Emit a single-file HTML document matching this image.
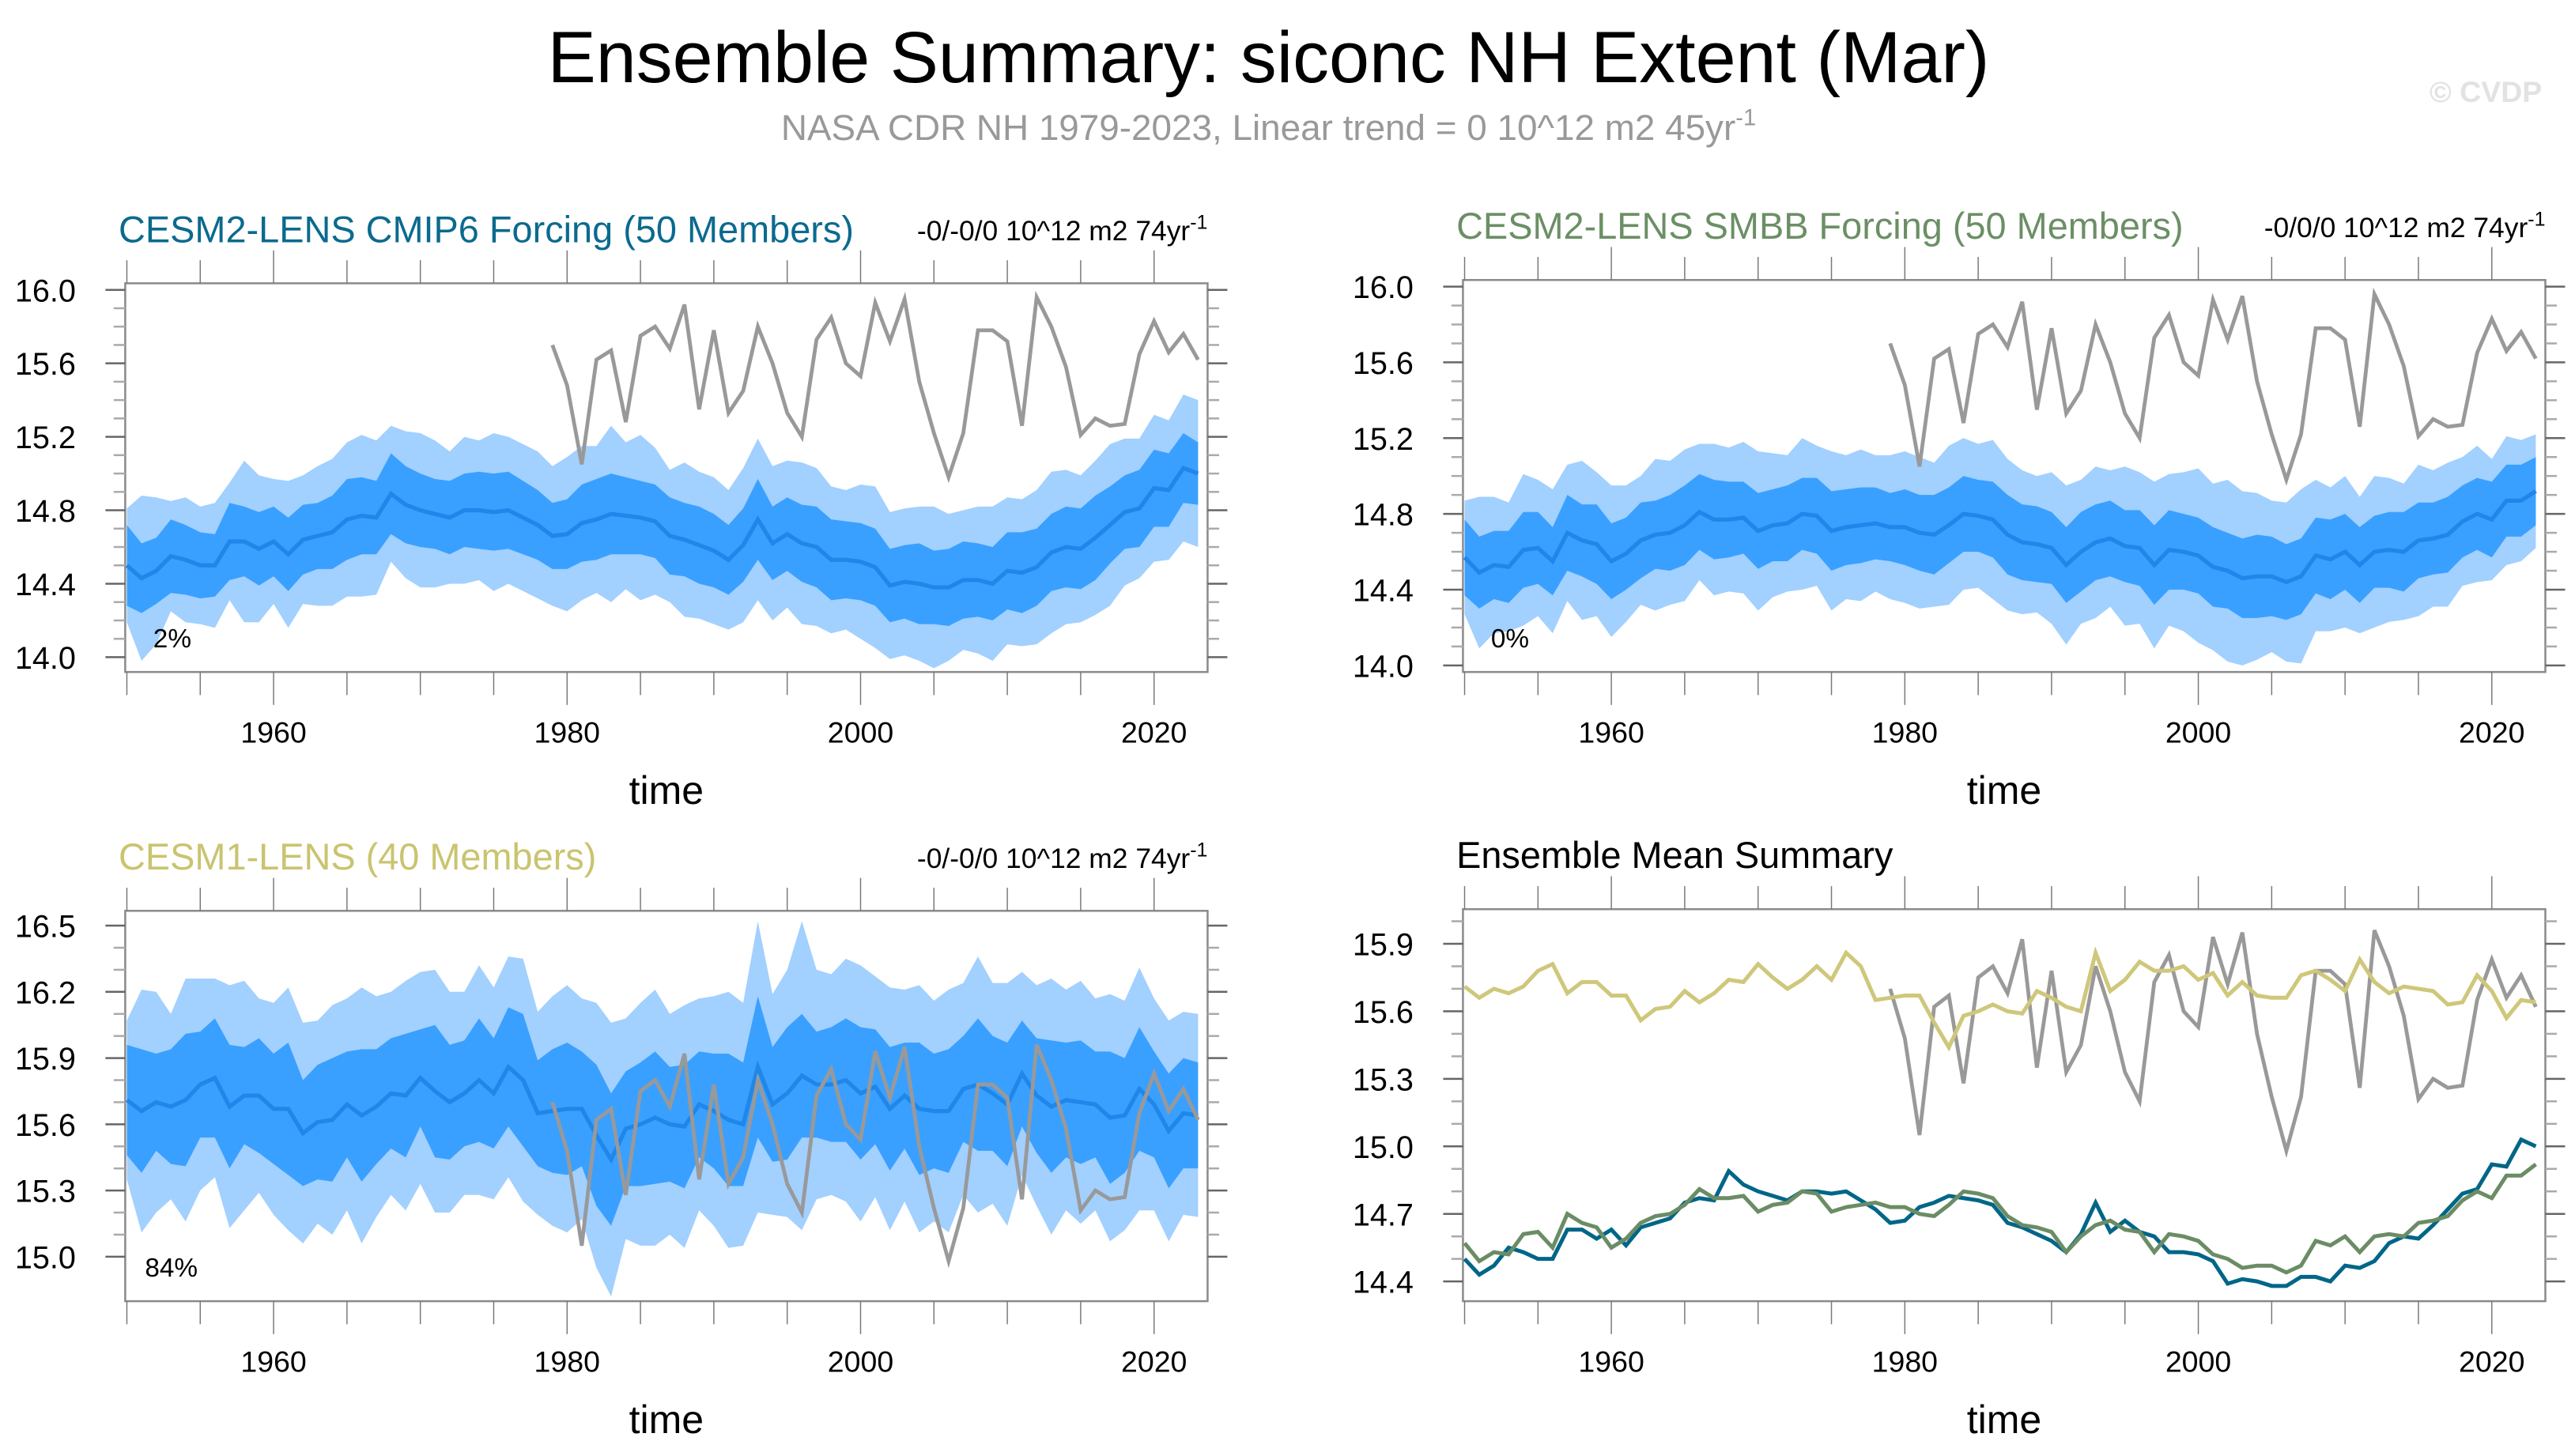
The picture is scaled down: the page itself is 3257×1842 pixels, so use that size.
<!DOCTYPE html>
<html><head><meta charset="utf-8"><style>
html,body{margin:0;padding:0;background:#fff;}
svg{display:block;font-family:"Liberation Sans",sans-serif;}
</style></head><body>
<svg id="chart" width="3257" height="1842" viewBox="0 0 1563 884" preserveAspectRatio="none" xmlns="http://www.w3.org/2000/svg">
<text x="770" y="50" font-size="44" text-anchor="middle" fill="#000">Ensemble Summary: siconc NH Extent (Mar)</text>
<text x="770" y="85" font-size="22" text-anchor="middle" fill="#999">NASA CDR NH 1979-2023, Linear trend = 0 10^12 m2 45yr<tspan dy="-9" font-size="14">-1</tspan></text>
<text x="1543" y="62" font-size="18" font-weight="bold" text-anchor="end" fill="#e2e2e2">© CVDP</text>
</svg>
<script>
const years = Array.from({length:74},(_,i)=>1950+i);
const obsYears = Array.from({length:45},(_,i)=>1979+i);
const obsValues = [15.70,15.48,15.05,15.62,15.67,15.28,15.75,15.80,15.68,15.92,15.35,15.78,15.33,15.45,15.80,15.60,15.33,15.20,15.73,15.85,15.60,15.53,15.93,15.72,15.95,15.50,15.22,14.98,15.22,15.78,15.78,15.72,15.26,15.96,15.80,15.58,15.21,15.30,15.26,15.27,15.65,15.83,15.66,15.76,15.62];
const cmip6Mean = [14.50,14.43,14.47,14.55,14.53,14.50,14.50,14.63,14.63,14.59,14.63,14.56,14.64,14.66,14.68,14.75,14.77,14.76,14.89,14.83,14.80,14.78,14.76,14.80,14.80,14.79,14.80,14.76,14.72,14.66,14.67,14.73,14.75,14.78,14.77,14.76,14.74,14.66,14.64,14.61,14.58,14.53,14.61,14.75,14.62,14.67,14.62,14.60,14.53,14.53,14.52,14.49,14.39,14.41,14.40,14.38,14.38,14.42,14.42,14.40,14.47,14.46,14.49,14.57,14.60,14.59,14.65,14.72,14.79,14.81,14.92,14.91,15.03,15.00];
const cmip6Inner = [0.22,0.19,0.18,0.20,0.19,0.18,0.17,0.21,0.19,0.20,0.19,0.20,0.19,0.18,0.20,0.22,0.21,0.20,0.22,0.21,0.20,0.19,0.20,0.20,0.21,0.21,0.21,0.20,0.19,0.18,0.19,0.21,0.22,0.22,0.21,0.20,0.20,0.21,0.20,0.21,0.20,0.19,0.20,0.22,0.20,0.20,0.21,0.22,0.22,0.21,0.21,0.21,0.20,0.20,0.22,0.20,0.21,0.21,0.20,0.20,0.21,0.22,0.21,0.21,0.22,0.22,0.23,0.21,0.20,0.21,0.21,0.20,0.19,0.17];
const cmip6Outer = [0.31,0.45,0.40,0.30,0.34,0.32,0.34,0.32,0.44,0.40,0.34,0.40,0.35,0.38,0.40,0.42,0.44,0.42,0.37,0.40,0.42,0.40,0.36,0.40,0.38,0.43,0.40,0.40,0.40,0.38,0.42,0.42,0.40,0.48,0.40,0.45,0.40,0.36,0.42,0.40,0.40,0.38,0.42,0.44,0.42,0.40,0.44,0.43,0.40,0.38,0.42,0.44,0.40,0.40,0.42,0.44,0.40,0.38,0.40,0.42,0.40,0.40,0.42,0.44,0.42,0.40,0.42,0.44,0.40,0.38,0.40,0.38,0.40,0.40];
const smbbMean = [14.57,14.49,14.53,14.52,14.61,14.62,14.55,14.70,14.66,14.64,14.55,14.59,14.66,14.69,14.70,14.74,14.81,14.77,14.77,14.78,14.71,14.74,14.75,14.80,14.79,14.71,14.73,14.74,14.75,14.73,14.73,14.70,14.69,14.74,14.80,14.79,14.77,14.69,14.65,14.64,14.62,14.53,14.60,14.65,14.67,14.63,14.62,14.53,14.61,14.60,14.58,14.52,14.50,14.46,14.47,14.47,14.44,14.47,14.58,14.56,14.60,14.53,14.60,14.61,14.60,14.66,14.67,14.69,14.76,14.80,14.77,14.87,14.87,14.92];
const smbbInner = [0.20,0.19,0.18,0.19,0.20,0.19,0.18,0.20,0.19,0.21,0.20,0.19,0.20,0.18,0.20,0.21,0.20,0.21,0.20,0.19,0.20,0.19,0.20,0.19,0.20,0.21,0.20,0.20,0.19,0.18,0.20,0.20,0.21,0.20,0.20,0.19,0.20,0.21,0.20,0.20,0.19,0.20,0.21,0.20,0.20,0.19,0.20,0.21,0.21,0.20,0.20,0.21,0.20,0.21,0.22,0.21,0.20,0.20,0.20,0.21,0.20,0.20,0.19,0.20,0.21,0.20,0.19,0.20,0.19,0.19,0.20,0.19,0.19,0.18];
const smbbOuter = [0.30,0.40,0.36,0.34,0.40,0.36,0.38,0.36,0.42,0.38,0.40,0.36,0.34,0.40,0.38,0.40,0.36,0.40,0.38,0.40,0.42,0.38,0.36,0.40,0.37,0.42,0.38,0.40,0.36,0.38,0.40,0.40,0.38,0.42,0.40,0.38,0.42,0.40,0.38,0.36,0.40,0.42,0.38,0.40,0.36,0.42,0.40,0.44,0.40,0.42,0.46,0.44,0.48,0.46,0.44,0.40,0.42,0.46,0.40,0.38,0.40,0.36,0.40,0.38,0.36,0.40,0.36,0.38,0.34,0.36,0.32,0.34,0.32,0.30];
const cesm1Mean = [15.71,15.66,15.70,15.68,15.71,15.78,15.81,15.68,15.73,15.73,15.67,15.67,15.56,15.61,15.62,15.69,15.64,15.68,15.74,15.73,15.81,15.75,15.70,15.74,15.80,15.74,15.86,15.80,15.65,15.66,15.67,15.67,15.55,15.44,15.58,15.60,15.63,15.60,15.59,15.69,15.66,15.62,15.60,15.86,15.69,15.74,15.82,15.78,15.78,15.80,15.74,15.77,15.67,15.73,15.67,15.66,15.66,15.76,15.78,15.74,15.69,15.83,15.73,15.68,15.71,15.70,15.69,15.63,15.64,15.76,15.69,15.57,15.65,15.64];
const cesm1Inner = [0.25,0.28,0.22,0.26,0.30,0.24,0.27,0.28,0.22,0.26,0.25,0.30,0.24,0.26,0.28,0.24,0.30,0.26,0.25,0.28,0.22,0.30,0.26,0.24,0.28,0.25,0.27,0.30,0.24,0.28,0.30,0.26,0.32,0.30,0.26,0.28,0.30,0.26,0.28,0.24,0.26,0.30,0.28,0.32,0.26,0.30,0.28,0.24,0.26,0.28,0.30,0.26,0.28,0.24,0.30,0.26,0.28,0.24,0.30,0.26,0.28,0.24,0.26,0.30,0.26,0.28,0.24,0.30,0.26,0.28,0.24,0.26,0.25,0.24];
const cesm1Outer = [0.36,0.55,0.50,0.42,0.55,0.48,0.45,0.55,0.52,0.44,0.48,0.55,0.50,0.46,0.52,0.48,0.58,0.50,0.46,0.52,0.48,0.55,0.50,0.46,0.52,0.48,0.50,0.55,0.46,0.52,0.56,0.50,0.60,0.62,0.50,0.55,0.58,0.50,0.55,0.48,0.52,0.58,0.55,0.66,0.50,0.56,0.70,0.52,0.50,0.55,0.58,0.50,0.55,0.48,0.56,0.50,0.55,0.48,0.58,0.50,0.55,0.46,0.50,0.58,0.50,0.55,0.48,0.56,0.52,0.55,0.48,0.50,0.46,0.46];

const NS='http://www.w3.org/2000/svg';
const svg=document.getElementById('chart');
function mk(tag,attrs,parent){const e=document.createElementNS(NS,tag);for(const k in attrs)e.setAttribute(k,attrs[k]);(parent||svg).appendChild(e);return e;}

function panel(cfg){
  const g=mk('g',{});
  
  
  const X=yr=>cfg.x0+(yr-1950)*(cfg.x1-cfg.x0)/70;
  const Y=v=>cfg.yTop+(cfg.vTop-v)*(cfg.yBot-cfg.yTop)/(cfg.vTop-cfg.vBot);
  const fr=mk('rect',{x:cfg.L,y:cfg.T,width:cfg.R-cfg.L,height:cfg.B-cfg.T,fill:'none',stroke:'#8a8a8a','stroke-width':1.2},g);
  
  
  for(let yr=1950;yr<=2020;yr+=5){
    const major=yr%20===0;const len=major?20:14;const x=X(yr);
    mk('line',{x1:x,x2:x,y1:cfg.B,y2:cfg.B+len,stroke:'#777','stroke-width':0.7},g);
    mk('line',{x1:x,x2:x,y1:cfg.T,y2:cfg.T-len,stroke:'#777','stroke-width':0.7},g);
    if(major){const t=mk('text',{x:x,y:cfg.B+43,'font-size':18,'text-anchor':'middle'},g);t.textContent=yr;
      
      }
  }
  const nMinor=Math.round((cfg.vTop-cfg.vBot)/cfg.minor);
  for(let i=0;i<=nMinor+1;i++){
    const v=cfg.vBot+i*cfg.minor;const y=Y(v);
    if(y<cfg.T-0.5||y>cfg.B+0.5)continue;
    const isMaj=Math.abs(((v-cfg.vBot)/cfg.major)-Math.round((v-cfg.vBot)/cfg.major))<1e-6;
    const len=isMaj?12:7;
    mk('line',{x1:cfg.L,x2:cfg.L-len,y1:y,y2:y,stroke:isMaj?'#666':'#aaa','stroke-width':1.2},g);
    mk('line',{x1:cfg.R,x2:cfg.R+len,y1:y,y2:y,stroke:isMaj?'#666':'#aaa','stroke-width':1.2},g);
    if(isMaj){const t=mk('text',{x:cfg.L-30,y:y+7,'font-size':19,'text-anchor':'end'},g);t.textContent=v.toFixed(1);
      
      }
  }
  if(cfg.mean&&cfg.outer){
    const band=(hw,col,nm)=>{
      let pts=years.map((yr,i)=>X(yr)+','+Y(cfg.mean[i]+hw[i]));
      pts=pts.concat(years.slice().reverse().map((yr,j)=>{const i=73-j;return X(yr)+','+Y(cfg.mean[i]-hw[i]);}));
      const p=mk('polygon',{points:pts.join(' '),fill:col},g);
      
      
    };
    band(cfg.outer,'#a2d0ff','outer-spread-band');
    band(cfg.inner,'#3aa0ff','inner-spread-band');
    const l=mk('polyline',{points:years.map((yr,i)=>X(yr)+','+Y(cfg.mean[i])).join(' '),fill:'none',stroke:'#1f86ea','stroke-width':2.5},g);
    
    
  }
  const o=mk('polyline',{points:obsYears.map((yr,i)=>X(yr)+','+Y(obsValues[i])).join(' '),fill:'none',stroke:'#999','stroke-width':2.3},g);
  
  
  (cfg.lines||[]).forEach(ln=>{
    const p=mk('polyline',{points:years.map((yr,i)=>X(yr)+','+Y(ln.d[i])).join(' '),fill:'none',stroke:ln.c,'stroke-width':2.4},g);
    
    
  });
  const t=mk('text',{x:cfg.L-4,y:cfg.T-25,'font-size':22.5,fill:cfg.tc},g);t.textContent=cfg.title;
  
  
  if(cfg.trend){const r=mk('text',{x:cfg.R,y:cfg.T-26,'font-size':17,'text-anchor':'end'},g);
    r.innerHTML='-0/'+cfg.trend+' 10^12 m2 74yr<tspan dy="-7" font-size="12">-1</tspan>';
    
    }
  if(cfg.pct){const p=mk('text',{x:cfg.L+cfg.pctDx,y:cfg.B-15,'font-size':16},g);p.textContent=cfg.pct;
    
    }
  const xt=mk('text',{x:(cfg.L+cfg.R)/2,y:cfg.B+80,'font-size':24,'text-anchor':'middle'},g);xt.textContent='time';
  
  
}

panel({name:'panel-cesm2-cmip6',L:76,R:733,T:172,B:408,x0:77,x1:700.5,yTop:176,yBot:399,vTop:16.0,vBot:14.0,major:0.4,minor:0.1,
  mean:cmip6Mean,inner:cmip6Inner,outer:cmip6Outer,title:'CESM2-LENS CMIP6 Forcing (50 Members)',tc:'#0b6a8e',trend:'-0/0',pct:'2%',pctDx:17});
panel({name:'panel-cesm2-smbb',L:888,R:1545,T:170,B:408,x0:889,x1:1512.5,yTop:174,yBot:404,vTop:16.0,vBot:14.0,major:0.4,minor:0.1,
  mean:smbbMean,inner:smbbInner,outer:smbbOuter,title:'CESM2-LENS SMBB Forcing (50 Members)',tc:'#6b8f65',trend:'0/0',pct:'0%',pctDx:17});
panel({name:'panel-cesm1',L:76,R:733,T:553,B:790,x0:77,x1:700.5,yTop:562,yBot:763,vTop:16.5,vBot:15.0,major:0.3,minor:0.1,
  mean:cesm1Mean,inner:cesm1Inner,outer:cesm1Outer,title:'CESM1-LENS (40 Members)',tc:'#c9c46f',trend:'-0/0',pct:'84%',pctDx:12});
panel({name:'panel-ensemble-mean-summary',L:888,R:1545,T:552,B:790,x0:889,x1:1512.5,yTop:573,yBot:778,vTop:15.9,vBot:14.4,major:0.3,minor:0.1,
  title:'Ensemble Mean Summary',tc:'#000',
  lines:[{d:cesm1Mean,c:'#cfc77a',n:'cesm1-mean-line'},{d:cmip6Mean,c:'#006688',n:'cmip6-mean-line'},{d:smbbMean,c:'#6b8c65',n:'smbb-mean-line'}]});
</script>
</body></html>
